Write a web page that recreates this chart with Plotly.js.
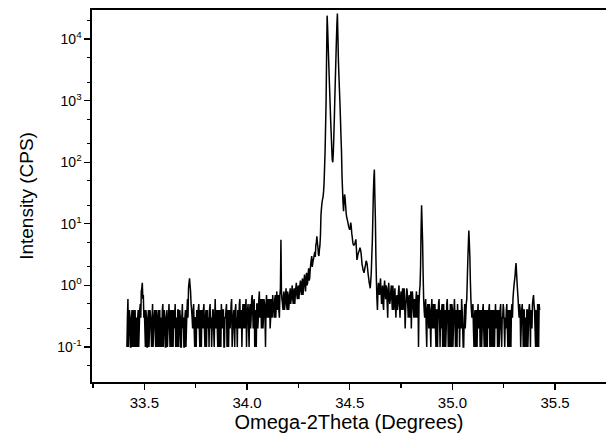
<!DOCTYPE html>
<html>
<head>
<meta charset="utf-8">
<script src="https://cdn.plot.ly/plotly-3.0.1.min.js"></script>
<style>html,body{margin:0;padding:0;background:#fff;}#chart{width:606px;height:438px;}</style>
</head>
<body>
<div id="chart"></div>
<script>
// Scan in Omega-2Theta (degrees): readings every 0.0025 deg,
// stored as the full-step readings and the half-step readings in between.
var scanStart = 33.415;
var scanStep = 0.005;
// Intensity (CPS) at scanStart + i*scanStep, one row = 10 steps (0.05 deg)
var intensityCps = [
  0.1,0.6,0.2,0.3,0.1,0.4,0.2,0.1,0.4,0.3,
  0.1,0.4,0.2,0.5,0.8,1.1,0.7,0.4,0.1,0.3,
  0.1,0.4,0.2,0.3,0.1,0.5,0.2,0.4,0.1,0.3,
  0.2,0.1,0.4,0.3,0.1,0.5,0.2,0.3,0.1,0.4,
  0.2,0.5,0.1,0.3,0.4,0.1,0.2,0.5,0.3,0.1,
  0.4,0.2,0.3,0.1,0.5,0.3,0.1,0.4,0.2,0.6,
  0.9,1.3,0.8,0.4,0.2,0.5,0.1,0.3,0.4,0.2,
  0.5,0.1,0.3,0.4,0.2,0.5,0.1,0.4,0.3,0.2,
  0.1,0.5,0.3,0.2,0.4,0.1,0.6,0.3,0.2,0.4,
  0.1,0.3,0.5,0.2,0.4,0.1,0.3,0.5,0.2,0.1,
  0.4,0.3,0.6,0.2,0.4,0.1,0.5,0.3,0.4,0.2,
  0.6,0.3,0.1,0.5,0.4,0.2,0.6,0.3,0.5,0.1,
  0.5,0.3,0.7,0.2,0.6,0.4,0.1,0.5,0.3,0.8,
  0.4,0.2,0.6,0.3,0.5,0.1,0.7,0.4,0.3,0.6,
  0.3,0.5,0.7,0.4,0.6,0.3,0.8,0.5,0.4,0.7,
  5.5,0.6,0.4,0.8,0.5,0.9,0.4,0.7,0.5,0.9,
  0.6,1.0,0.5,0.9,0.7,1.1,0.6,1.0,0.8,1.2,
  0.7,1.3,0.9,1.5,0.8,1.6,1.1,1.9,1.3,2.2,
  3.0,2.3,2.8,3.5,4.5,6.3,4.2,3.0,4.5,14,
  22,27,45,150,1000,24000,8000,2500,800,280,
  110,140,500,2200,9000,26000,4500,1500,500,150,
  36,16,30,20,13,11,9,8,10.5,7,
  5,4.5,4.8,5.6,2.6,3.2,3.6,4.1,3.4,2.2,
  1.8,1.6,2.0,2.5,2.2,1.5,1.1,0.9,1.6,5,
  30,76,12,1.2,0.4,1.1,0.7,1.3,0.5,1.0,
  0.4,1.2,0.6,0.9,0.3,1.1,0.5,0.8,0.6,1.0,
  0.4,0.9,0.3,0.7,0.5,1.0,0.3,0.8,0.6,0.4,
  0.9,0.2,0.6,0.8,0.3,0.7,0.5,0.2,0.8,0.4,
  0.6,0.3,0.8,0.5,0.1,0.8,2.0,20,5,0.6,
  0.3,0.6,0.1,0.5,0.2,0.4,0.1,0.6,0.3,0.2,
  0.5,0.1,0.4,0.3,0.6,0.1,0.2,0.5,0.3,0.1,
  0.4,0.2,0.6,0.1,0.3,0.5,0.1,0.4,0.2,0.6,
  0.1,0.3,0.5,0.2,0.1,0.4,0.6,0.2,0.1,0.5,
  0.3,0.6,2.5,7.8,3.0,0.6,0.3,0.5,0.1,0.4,
  0.2,0.1,0.5,0.3,0.1,0.4,0.2,0.5,0.1,0.3,
  0.4,0.1,0.2,0.5,0.3,0.1,0.4,0.2,0.1,0.5,
  0.3,0.1,0.4,0.2,0.5,0.1,0.3,0.4,0.1,0.2,
  0.5,0.1,0.3,0.4,0.1,0.5,0.6,1.0,1.4,2.3,
  1.1,0.6,0.3,0.4,0.2,0.5,0.1,0.4,0.3,0.1,
  0.4,0.2,0.5,0.1,0.3,0.5,0.7,0.4,0.1,0.3,
  0.5,0.1,0.4
];
// Intensity (CPS) at the half steps scanStart + (i+0.5)*scanStep
var intensityCpsHalf = [
  0.3,0.1,0.4,0.1,0.3,0.1,0.4,0.3,0.1,0.2,
  0.3,0.1,0.4,0.3,0.9,0.6,0.3,0.2,0.4,0.1,
  0.3,0.1,0.4,0.2,0.3,0.1,0.3,0.2,0.4,0.1,
  0.4,0.3,0.1,0.2,0.4,0.1,0.4,0.1,0.3,0.1,
  0.3,0.2,0.4,0.1,0.3,0.4,0.3,0.1,0.2,0.4,
  0.1,0.4,0.1,0.3,0.2,0.1,0.3,0.1,0.4,0.3,
  1.1,1.0,0.5,0.3,0.4,0.2,0.3,0.1,0.3,0.4,
  0.2,0.4,0.1,0.3,0.4,0.2,0.3,0.1,0.4,0.3,
  0.4,0.2,0.1,0.4,0.2,0.3,0.2,0.4,0.1,0.3,
  0.4,0.1,0.3,0.4,0.1,0.3,0.4,0.1,0.4,0.3,
  0.2,0.5,0.1,0.3,0.2,0.4,0.2,0.1,0.3,0.5,
  0.2,0.4,0.3,0.2,0.5,0.4,0.1,0.4,0.2,0.4,
  0.2,0.6,0.4,0.5,0.1,0.3,0.5,0.2,0.6,0.3,
  0.6,0.4,0.2,0.6,0.3,0.5,0.3,0.6,0.5,0.2,
  0.6,0.3,0.5,0.3,0.7,0.5,0.4,0.7,0.3,0.9,
  0.8,0.5,0.7,0.4,0.7,0.5,0.8,0.4,0.7,0.5,
  0.8,0.6,0.8,0.5,0.9,0.7,0.9,0.6,1.0,0.8,
  1.1,0.7,1.2,1.0,1.3,1.0,1.5,1.2,1.8,2.6,
  2.0,2.6,3.2,2.9,5.0,5.0,3.2,3.8,6.5,18,
  25,33,80,380,5500,15000,4500,1400,450,170,
  100,250,1100,4500,17000,11000,2500,900,260,60,
  22,24,26,15,12,10,8.5,9,9,6,
  4.6,4.6,5.2,4.0,2.8,3.4,3.8,3.8,2.8,2.0,
  1.7,1.8,2.2,2.4,1.8,1.3,1.0,1.2,3,12,
  55,28,3,0.6,0.8,0.8,1.0,0.8,0.7,0.5,
  0.9,0.8,1.0,0.5,0.8,0.7,0.6,1.0,0.4,0.7,
  0.7,0.5,0.6,0.4,0.8,0.5,0.6,0.4,0.9,0.7,
  0.5,0.4,0.9,0.5,0.6,0.3,0.8,0.5,0.6,0.3,
  0.4,0.6,0.3,0.7,0.5,1.0,8,10,1.5,0.4,
  0.5,0.2,0.4,0.3,0.5,0.2,0.4,0.2,0.5,0.4,
  0.2,0.4,0.1,0.5,0.3,0.4,0.4,0.1,0.5,0.3,
  0.1,0.5,0.3,0.4,0.1,0.2,0.5,0.1,0.4,0.3,
  0.4,0.1,0.3,0.4,0.3,0.2,0.4,0.1,0.3,0.2,
  0.5,1.2,4.5,5.0,1.2,0.4,0.4,0.2,0.3,0.1,
  0.4,0.3,0.2,0.4,0.3,0.1,0.4,0.2,0.4,0.1,
  0.2,0.4,0.4,0.1,0.4,0.3,0.1,0.4,0.3,0.2,
  0.4,0.3,0.1,0.4,0.2,0.3,0.5,0.2,0.3,0.4,
  0.2,0.4,0.1,0.2,0.4,0.3,0.8,1.2,1.9,1.6,
  0.8,0.4,0.5,0.1,0.4,0.3,0.4,0.1,0.2,0.4,
  0.1,0.4,0.3,0.4,0.2,0.6,0.5,0.2,0.4,0.1,
  0.3,0.5
];
var xTickVals = [33.5, 34.0, 34.5, 35.0, 35.5];
var xTickText = ['33.5', '34.0', '34.5', '35.0', '35.5'];
var yTickVals = [0.1, 1, 10, 100, 1000, 10000];
var yTickText = ['10<sup>-1</sup>', '10<sup>0</sup>', '10<sup>1</sup>', '10<sup>2</sup>', '10<sup>3</sup>', '10<sup>4</sup>'];

// Merge full-step and half-step readings in scan order
var angle = [], cps = [];
intensityCps.forEach(function (v, i) {
  angle.push(+(scanStart + i * scanStep).toFixed(4));
  cps.push(v);
  if (i < intensityCpsHalf.length) {
    angle.push(+(scanStart + (i + 0.5) * scanStep).toFixed(5));
    cps.push(intensityCpsHalf[i]);
  }
});

var trace = {
  x: angle,
  y: cps,
  type: 'scatter',
  mode: 'lines',
  line: { color: '#000', width: 1.5, simplify: false },
  hoverinfo: 'x+y'
};

var font = 'Arial, "Liberation Sans", Helvetica, sans-serif';
var layout = {
  width: 606,
  height: 438,
  margin: { l: 92, r: 0, t: 10, b: 56 },
  paper_bgcolor: '#fff',
  plot_bgcolor: '#fff',
  showlegend: false,
  font: { family: font, color: '#000', size: 14 },
  xaxis: {
    range: [33.245, 35.748],
    tickmode: 'array',
    tickvals: xTickVals,
    ticktext: xTickText,
    ticks: 'outside',
    ticklen: 6,
    tickwidth: 1.2,
    tickcolor: '#000',
    minor: { dtick: 0.25, tick0: 33.25, ticks: 'outside', ticklen: 4, tickwidth: 1.2, tickcolor: '#000', showgrid: false },
    showline: true,
    linecolor: '#000',
    linewidth: 1.6,
    mirror: true,
    showgrid: false,
    zeroline: false,
    ticklabelstandoff: 0,
    tickfont: { family: font, size: 15, color: '#000' },
    title: { text: 'Omega-2Theta (Degrees)', font: { family: font, size: 20, color: '#000' }, standoff: 5 }
  },
  yaxis: {
    type: 'log',
    range: [-1.568, 4.472],
    tickmode: 'array',
    tickvals: yTickVals,
    ticktext: yTickText,
    ticks: 'outside',
    ticklen: 6,
    tickwidth: 1.2,
    tickcolor: '#000',
    minor: { ticks: 'outside', ticklen: 3, tickwidth: 1, tickcolor: '#000', showgrid: false },
    showline: true,
    linecolor: '#000',
    linewidth: 1.6,
    showgrid: false,
    zeroline: false,
    tickfont: { family: font, size: 14, color: '#000' },
    title: { text: 'Intensity (CPS)', font: { family: font, size: 19, color: '#000' }, standoff: 18 }
  }
};

Plotly.newPlot('chart', [trace], layout, { displayModeBar: false, staticPlot: true });
</script>
</body>
</html>
